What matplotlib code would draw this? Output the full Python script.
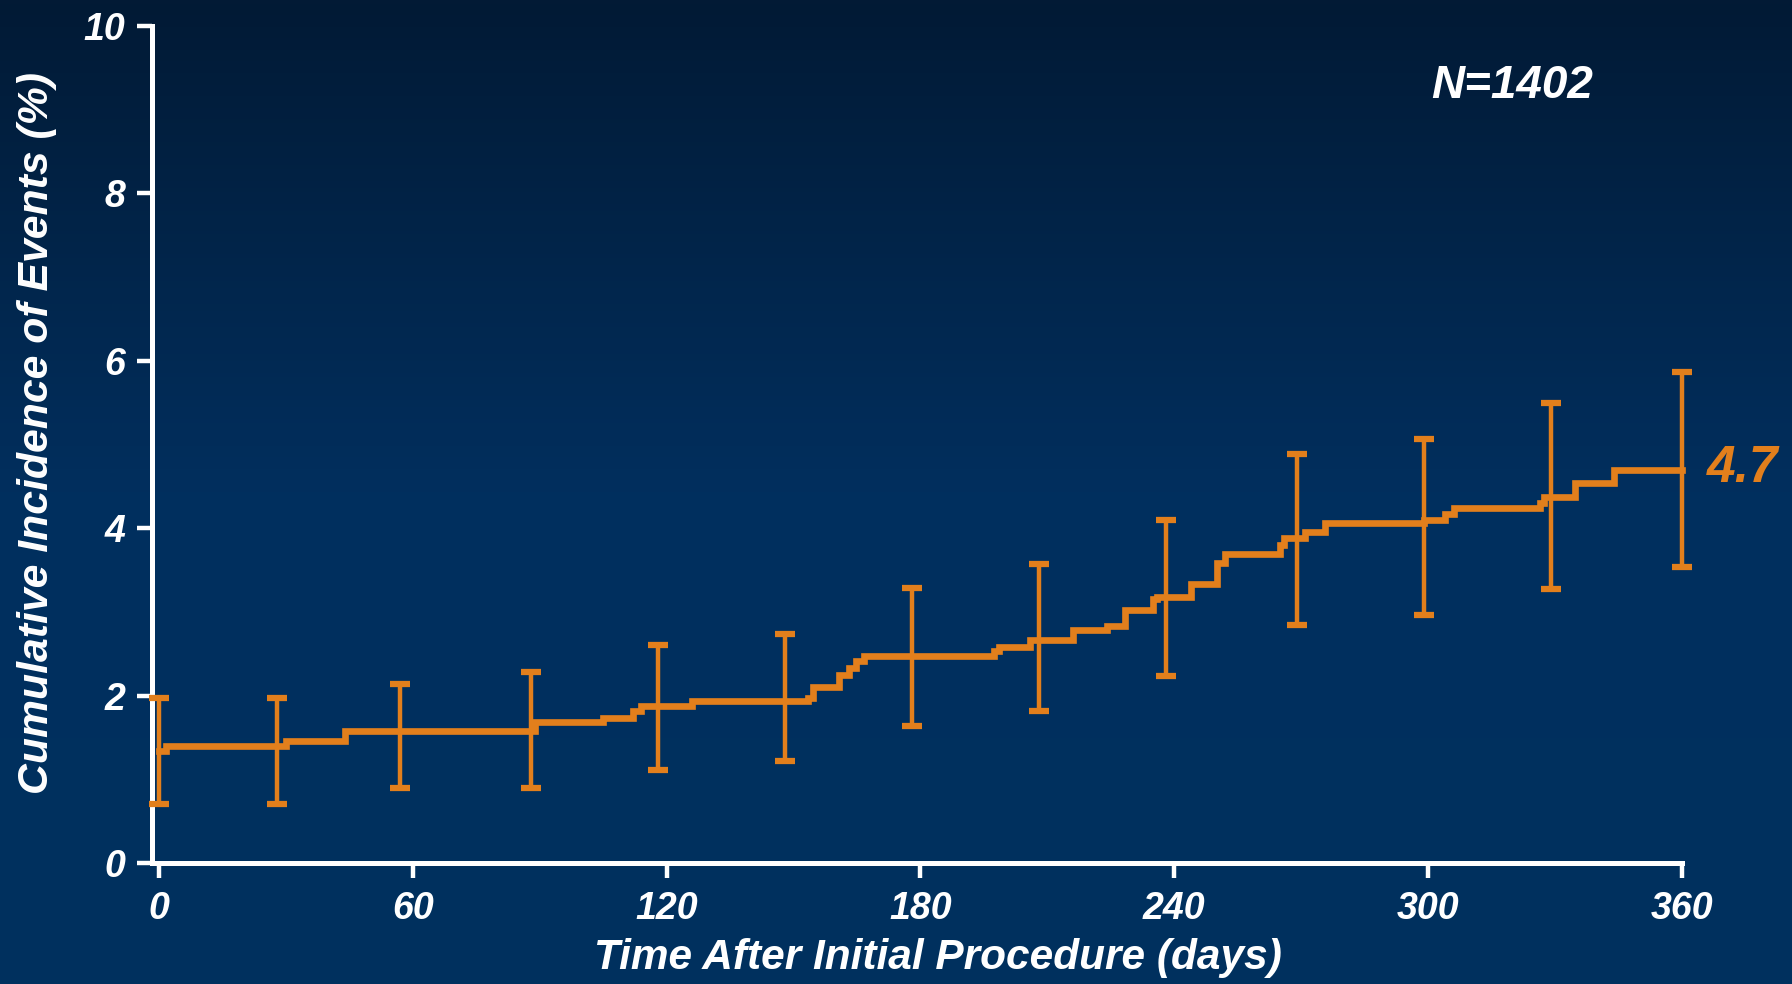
import numpy as np
import matplotlib
matplotlib.use("Agg")
import matplotlib.pyplot as plt
from matplotlib.colors import LinearSegmentedColormap

# Cumulative incidence step curve: event days and level reached after each
event_days = [0, 1.6, 30, 44, 89, 105, 112, 114, 126, 153.5, 154.5, 160.7,
              163, 164.7, 166.6, 197.5, 198.5, 206, 216, 224, 228.3, 235,
              236, 244, 250, 252, 265, 266, 271, 275.6, 299, 304, 306,
              326.5, 327.5, 334.6, 344, 360]
incidence = [1.34, 1.40, 1.46, 1.58, 1.68, 1.73, 1.82, 1.87, 1.93, 1.97,
             2.10, 2.24, 2.33, 2.41, 2.47, 2.53, 2.58, 2.66, 2.78, 2.83,
             3.02, 3.15, 3.18, 3.33, 3.58, 3.69, 3.80, 3.88, 3.95, 4.06,
             4.10, 4.17, 4.24, 4.30, 4.37, 4.54, 4.70, 4.70]

# Confidence intervals shown at selected days
ci_days = [0, 28, 57, 88, 118, 148, 178, 208, 238, 269, 299, 329, 360]
ci_lower = [0.71, 0.71, 0.90, 0.90, 1.11, 1.22, 1.64, 1.82, 2.23, 2.84, 2.96, 3.27, 3.54]
ci_upper = [1.97, 1.97, 2.14, 2.28, 2.61, 2.73, 3.29, 3.57, 4.10, 4.89, 5.07, 5.49, 5.86]

x_ticks = [0, 60, 120, 180, 240, 300, 360]
y_ticks = [0, 2, 4, 6, 8, 10]
n_label = "N=1402"
final_label = "4.7"

ORANGE = "#E27F1C"
WHITE = "white"
FONT = "Liberation Sans"

fig = plt.figure(figsize=(17.92, 9.84), dpi=100)

# Vertical navy gradient behind everything
bg = fig.add_axes([0, 0, 1, 1], zorder=-10)
cmap = LinearSegmentedColormap.from_list("navy", ["#021a35", "#012f5e", "#00315f"])
grad = np.linspace(0, 1, 256).reshape(-1, 1)
bg.imshow(grad, aspect="auto", cmap=cmap, extent=[0, 1, 0, 1], origin="upper")
bg.set_axis_off()

ax = fig.add_axes([0.0848, 0.1230, 0.9386 - 0.0848, 0.9736 - 0.1230])
ax.patch.set_alpha(0)

def level_at(day):
    idx = np.searchsorted(event_days, day, side="right") - 1
    return incidence[max(idx, 0)]

ax.plot(event_days, incidence, drawstyle="steps-post", color=ORANGE,
        lw=4.8, solid_joinstyle="miter", clip_on=False, zorder=3)

centers = np.array([level_at(d) for d in ci_days])
yerr = [centers - np.array(ci_lower), np.array(ci_upper) - centers]
ax.errorbar(ci_days, centers, yerr=yerr, fmt="none", ecolor=ORANGE,
            elinewidth=3.2, capsize=7, capthick=4.5, clip_on=False, zorder=4)

ax.set_xlim(-1.65, 360)
ax.set_ylim(0, 10)
ax.set_xticks(x_ticks)
ax.set_yticks(y_ticks)

for side in ("top", "right"):
    ax.spines[side].set_visible(False)
for side in ("left", "bottom"):
    ax.spines[side].set_color(WHITE)
    ax.spines[side].set_linewidth(3.6)

ax.tick_params(axis="both", colors=WHITE, direction="out", length=11, width=3.2)
ax.tick_params(axis="x", pad=9)
ax.tick_params(axis="y", pad=8)

for lab in ax.get_xticklabels():
    lab.set_fontfamily(FONT)
    lab.set_fontsize(27)
    lab.set_fontweight("bold")
    lab.set_fontstyle("italic")
    lab.set_color(WHITE)
for lab in ax.get_yticklabels():
    lab.set_fontfamily(FONT)
    lab.set_fontsize(27)
    lab.set_fontweight("bold")
    lab.set_fontstyle("italic")
    lab.set_color(WHITE)

ax.set_xlabel("Time After Initial Procedure (days)", fontfamily=FONT,
              fontsize=30.5, fontweight="bold", fontstyle="italic", color=WHITE)
ax.xaxis.label.set_va("center")
ax.xaxis.set_label_coords(0.514, -0.113)
ax.set_ylabel("Cumulative Incidence of Events (%)", fontfamily=FONT,
              fontsize=30.8, fontweight="bold", fontstyle="italic", color=WHITE)
ax.yaxis.label.set_va("center")
ax.yaxis.set_label_coords(-0.0754, 0.514)

ax.text(0.889, 0.928, n_label, transform=ax.transAxes, ha="center", va="center",
        fontfamily=FONT, fontsize=33, fontweight="bold",
        fontstyle="italic", color=WHITE)
ax.annotate(final_label, xy=(360, incidence[-1]), xytext=(18, 1),
            textcoords="offset points", ha="left", va="center",
            fontfamily=FONT, fontsize=37, fontweight="bold",
            fontstyle="italic", color=ORANGE, annotation_clip=False)

fig.savefig("out.png", dpi=100)
